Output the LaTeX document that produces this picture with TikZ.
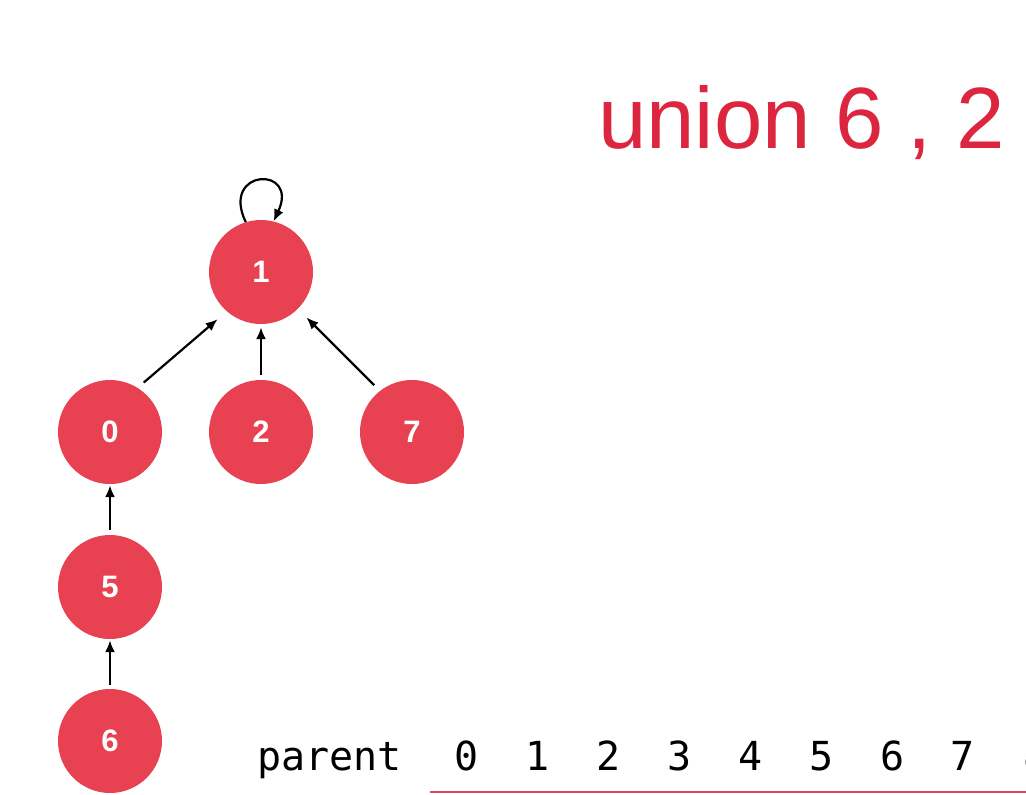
\documentclass[tikz,border=0pt]{standalone}
\usepackage{fontspec}
\setmainfont{Liberation Sans}
\newfontfamily\monof{DejaVu Sans Mono}
\usetikzlibrary{arrows.meta}
\definecolor{nodered}{RGB}{232,66,82}
\definecolor{titlered}{RGB}{220,38,64}
\definecolor{linered}{RGB}{222,70,90}
\tikzset{
  vert/.style={circle,fill=nodered,minimum size=104pt,inner sep=0pt,text=white,font=\bfseries\fontsize{31}{31}\selectfont},
  arr/.style={line width=2.2pt,-{Latex[length=12pt,width=10pt]}},
  monotext/.style={anchor=base,inner sep=0pt,font=\monof\fontsize{40}{40}\selectfont},
}
\begin{document}
\begin{tikzpicture}[x=1pt,y=-1pt]
\useasboundingbox (0,0) rectangle (1026,795);
\fill[white] (0,0) rectangle (1026,795);
\node[vert] (n1) at (261,272) {1};
\node[vert] (n0) at (110,432) {0};
\node[vert] (n2) at (261,432) {2};
\node[vert] (n7) at (412,432) {7};
\node[vert] (n5) at (110,587) {5};
\node[vert] (n6) at (110,741) {6};
\draw[arr,shorten <=8pt,shorten >=12pt] (n0.58) -- (n1.229);
\draw[arr,shorten <=5pt,shorten >=3pt] (n2.north) -- (n1.south);
\draw[arr,shorten <=8pt,shorten >=12pt] (n7.128) -- (n1.315);
\draw[arr,shorten <=5pt,shorten >=1pt] (n5.north) -- (n0.south);
\draw[arr,shorten <=4pt,shorten >=1pt] (n6.north) -- (n5.south);
\draw[arr] (n1.107) .. controls +(-26,-54) and +(26,-56) .. (n1.76);
\node[anchor=base west,inner sep=0pt,text=titlered,font=\fontsize{87}{87}\selectfont] (title) at (598,148) {union 6 , 2};
\node[monotext,anchor=base west] (plabel) at (257,770) {parent};
\node[monotext] (d0) at (467,770) {0};
\node[monotext] (d1) at (538,770) {1};
\node[monotext] (d2) at (609,770) {2};
\node[monotext] (d3) at (680,770) {3};
\node[monotext] (d4) at (751,770) {4};
\node[monotext] (d5) at (822,770) {5};
\node[monotext] (d6) at (893,770) {6};
\node[monotext] (d7) at (963,770) {7};
\begin{scope}
\clip (0,0) rectangle (1026,795);
\node[monotext] (d8) at (1036,770) {8};
\end{scope}
\draw[linered,line width=2pt] (430,792) -- (1026,792);
\end{tikzpicture}
\end{document}
